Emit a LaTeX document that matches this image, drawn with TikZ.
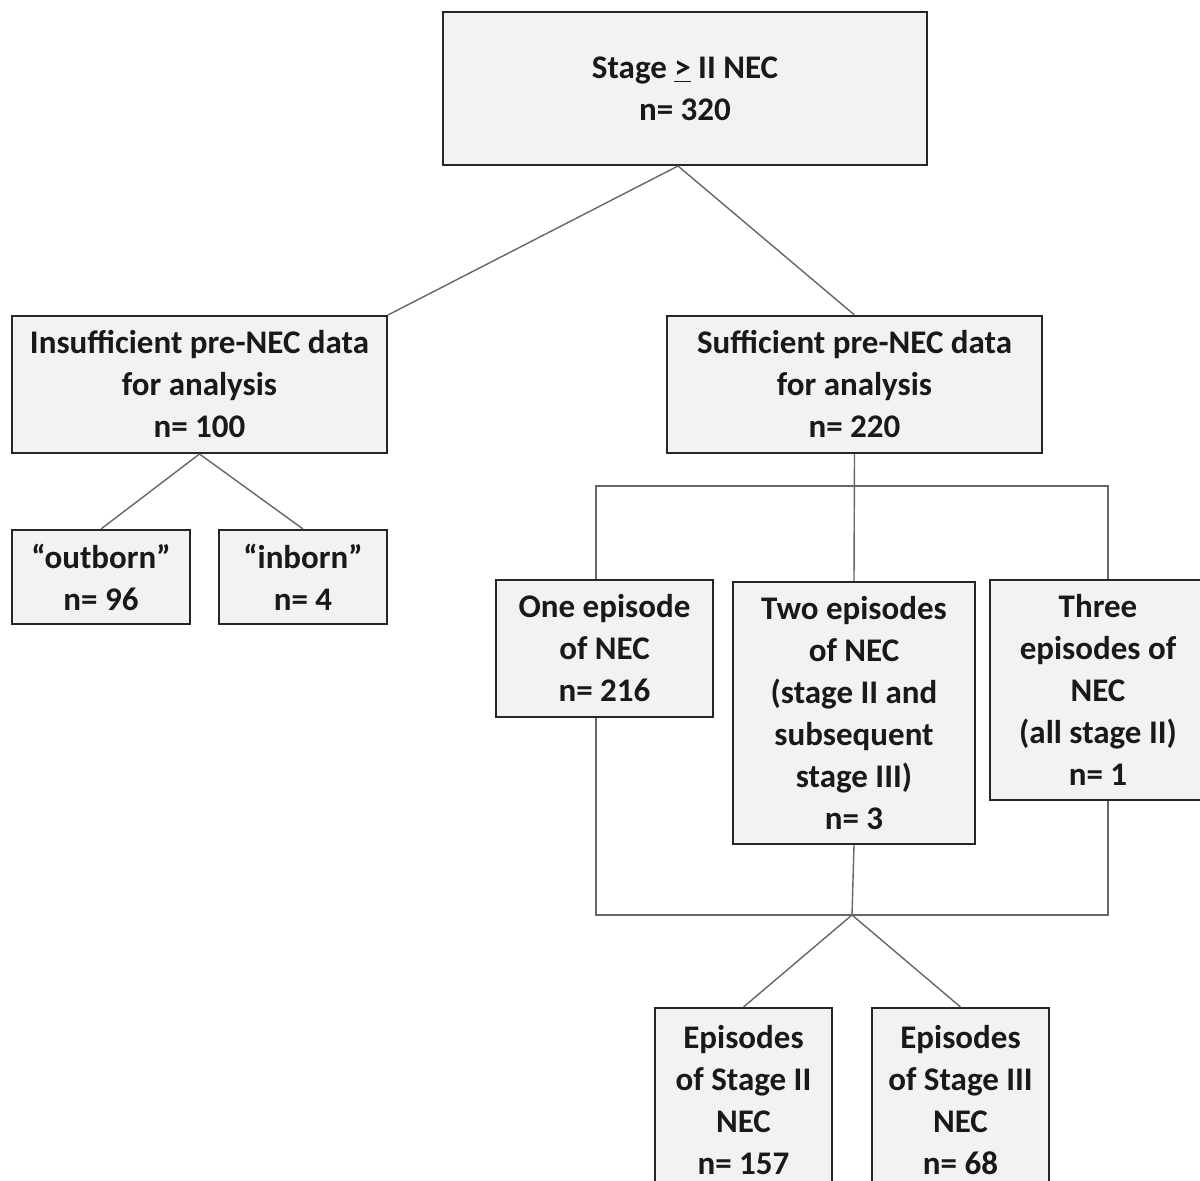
\documentclass[tikz,border=0pt]{standalone}
\usepackage{fontspec}
\setmainfont{Carlito}
\begin{document}
\begin{tikzpicture}[x=0.5pt,y=-0.5pt,
  box/.style={draw=black!85,line width=1pt,fill=black!5,align=center,inner sep=0pt,
    font=\fontsize{16.5}{21}\selectfont\bfseries,text=black!90},
  conn/.style={draw=black!60,line width=0.7pt}]
\useasboundingbox (0,0) rectangle (1200,1181);
\clip (0,0) rectangle (1200,1181);
\fill[white] (0,0) rectangle (1200,1181);
\node[box,minimum width=242pt,minimum height=76.5pt] (top) at (685,88.5) {Stage \underline{>} II NEC\\n= 320};
\node[box,minimum width=187.5pt,minimum height=68.5pt] (ins) at (199.5,384.5) {Insufficient pre-NEC data\\for analysis\\n= 100};
\node[box,minimum width=187.5pt,minimum height=68.5pt] (suf) at (854.5,384.5) {Sufficient pre-NEC data\\for analysis\\n= 220};
\node[box,minimum width=89pt,minimum height=47pt] (out) at (101,577) {“outborn”\\n= 96};
\node[box,minimum width=84pt,minimum height=47pt] (inb) at (303,577) {“inborn”\\n= 4};
\node[box,minimum width=108.5pt,minimum height=68.5pt] (one) at (604.5,648.5) {One episode\\of NEC\\n= 216};
\node[box,minimum width=121pt,minimum height=131pt] (two) at (854,713) {Two episodes\\of NEC\\(stage II and\\subsequent\\stage III)\\n= 3};
\node[box,minimum width=108pt,minimum height=110pt] (three) at (1098,690) {Three\\episodes of\\NEC\\(all stage II)\\n= 1};
\node[box,minimum width=88.5pt,minimum height=92pt] (e2) at (743.5,1100) {Episodes\\of Stage II\\NEC\\n= 157};
\node[box,minimum width=88.5pt,minimum height=92pt] (e3) at (960.5,1100) {Episodes\\of Stage III\\NEC\\n= 68};
\coordinate (tl) at (596,486);
\coordinate (tr) at (1108,486);
\coordinate (bl) at (596,915);
\coordinate (br) at (1108,915);
\coordinate (hub) at (852,915);
\draw[conn] ([xshift=-3.5pt]top.south) -- (ins.north east);
\draw[conn] ([xshift=-3.5pt]top.south) -- (suf.north);
\draw[conn] (ins.south) -- (out.north);
\draw[conn] (ins.south) -- (inb.north);
\draw[conn] (suf.south) -- (two.north);
\draw[conn] (tl |- one.north) -- (tl) -- (tr) -- (tr |- three.north);
\draw[conn] (tl |- one.south) -- (bl) -- (br) -- (br |- three.south);
\draw[conn] (two.south) -- (hub);
\draw[conn] (hub) -- (e2.north);
\draw[conn] (hub) -- (e3.north);
\end{tikzpicture}
\end{document}
